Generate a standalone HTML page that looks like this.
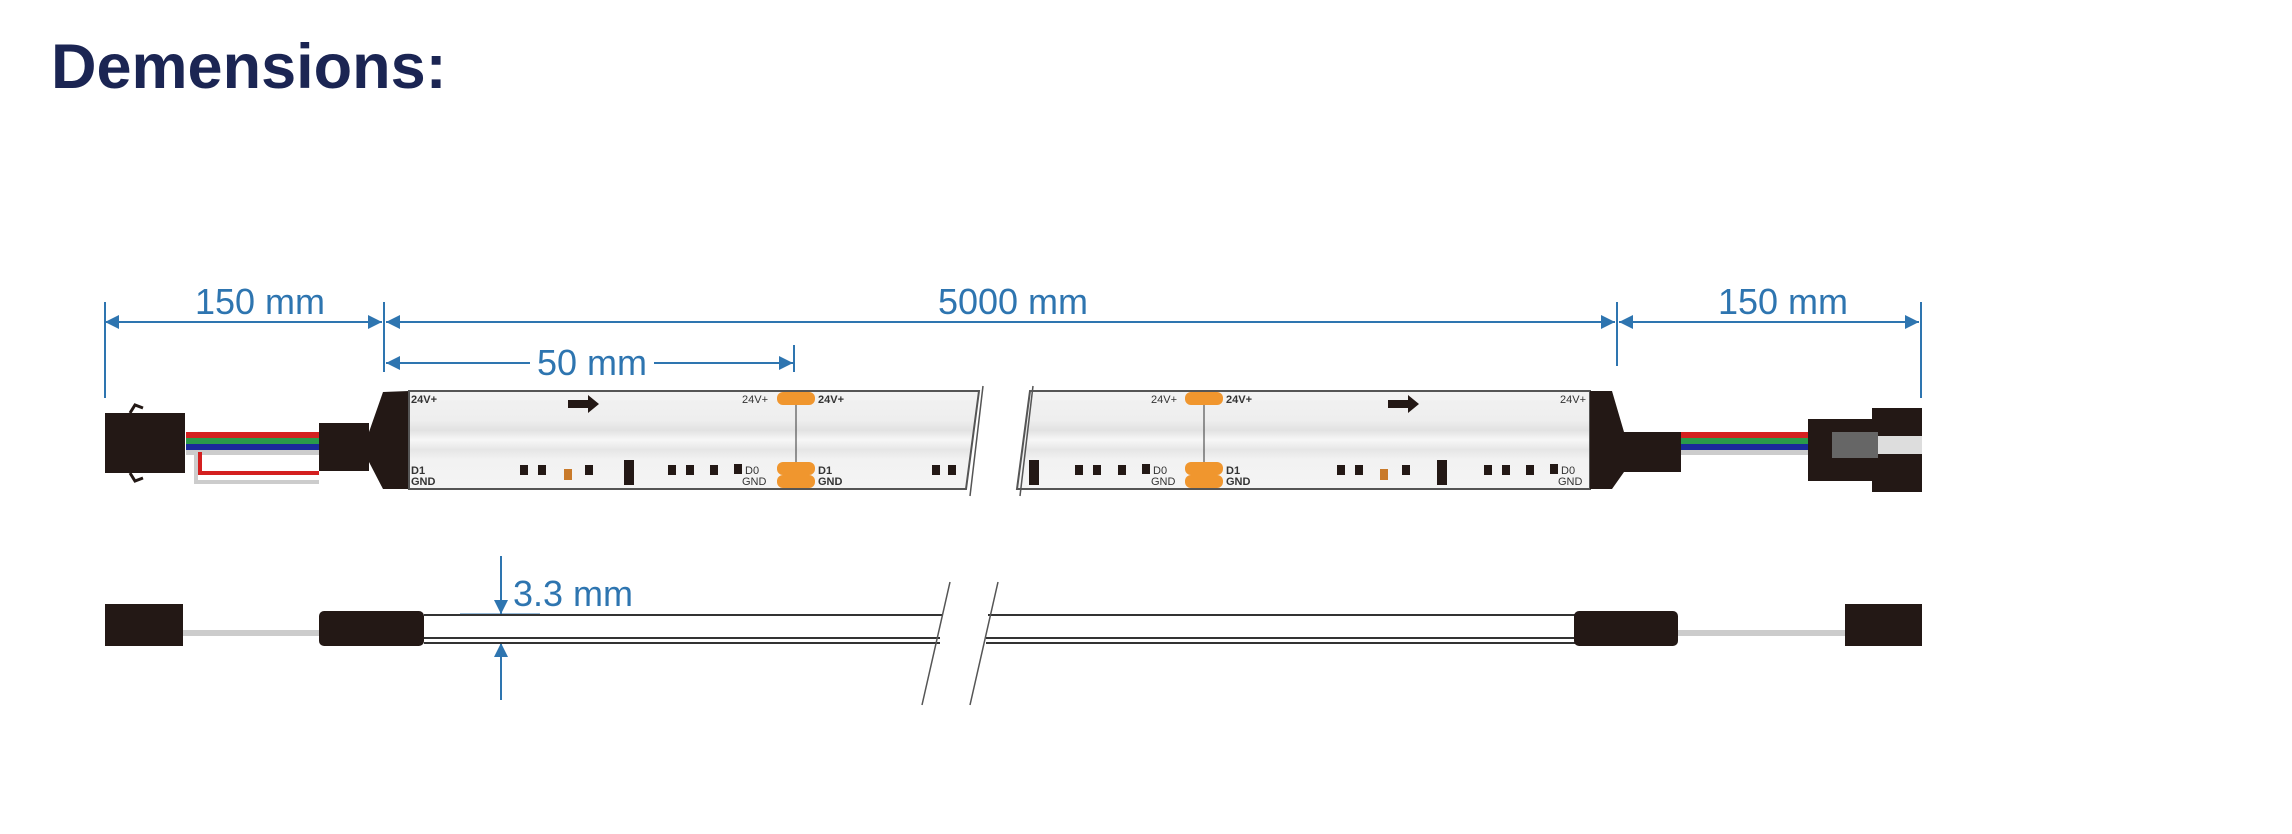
<!DOCTYPE html>
<html><head><meta charset="utf-8"><style>
html,body{margin:0;padding:0;background:#fff;width:2292px;height:834px;overflow:hidden}
svg{display:block}
.d{font-family:"Liberation Sans",Arial,sans-serif;fill:#2e75b0;font-size:36px}
.s{font-family:"Liberation Sans",Arial,sans-serif;font-weight:bold;font-size:11px;fill:#333}
</style></head><body>
<svg width="2292" height="834" viewBox="0 0 2292 834" xmlns="http://www.w3.org/2000/svg">
<defs>
<marker id="a" viewBox="0 0 10 10" refX="10" refY="5" markerWidth="14" markerHeight="14" markerUnits="userSpaceOnUse" orient="auto-start-reverse"><path d="M0,0 L10,5 L0,10z" fill="#2e75b0"/></marker>
<linearGradient id="g" x1="0" y1="0" x2="0" y2="1">
<stop offset="0" stop-color="#f2f2f2"/><stop offset="0.3" stop-color="#eeeeee"/><stop offset="0.4" stop-color="#e2e2e2"/><stop offset="0.5" stop-color="#f7f7f7"/><stop offset="0.6" stop-color="#e6e6e6"/><stop offset="0.7" stop-color="#f2f2f2"/><stop offset="1" stop-color="#f4f4f4"/></linearGradient>
</defs>
<text x="51" y="88" font-family="Liberation Sans,Arial,sans-serif" font-weight="bold" font-size="63" fill="#1b2553">Demensions:</text>

<g stroke="#2e75b0" stroke-width="2" fill="none">
<line x1="105" y1="302" x2="105" y2="398"/>
<line x1="384" y1="302" x2="384" y2="372"/>
<line x1="1617" y1="302" x2="1617" y2="366"/>
<line x1="1921" y1="302" x2="1921" y2="398"/>
<line x1="794" y1="345" x2="794" y2="372"/>
<line x1="105" y1="322" x2="382" y2="322" marker-start="url(#a)" marker-end="url(#a)"/>
<line x1="386" y1="322" x2="1615" y2="322" marker-start="url(#a)" marker-end="url(#a)"/>
<line x1="1619" y1="322" x2="1919" y2="322" marker-start="url(#a)" marker-end="url(#a)"/>
<line x1="386" y1="363" x2="530" y2="363" marker-start="url(#a)"/>
<line x1="654" y1="363" x2="793" y2="363" marker-end="url(#a)"/>
<line x1="501" y1="556" x2="501" y2="614" marker-end="url(#a)"/>
<line x1="501" y1="700" x2="501" y2="643" marker-end="url(#a)"/>
<line x1="460" y1="614" x2="540" y2="614" stroke-width="1"/>
<line x1="460" y1="643" x2="540" y2="643" stroke-width="1"/>
</g>
<text class="d" x="260" y="314" text-anchor="middle">150 mm</text>
<text class="d" x="1013" y="314" text-anchor="middle">5000 mm</text>
<text class="d" x="1783" y="314" text-anchor="middle">150 mm</text>
<text class="d" x="592" y="375" text-anchor="middle" font-size="33">50 mm</text>
<text class="d" x="513" y="606">3.3 mm</text>

<rect x="186" y="432" width="133" height="6" fill="#d42020"/>
<rect x="186" y="438" width="133" height="6" fill="#2a9a4a"/>
<rect x="186" y="444" width="133" height="6" fill="#1a2a9a"/>
<rect x="186" y="450" width="133" height="5" fill="#ccc"/>
<path d="M200,452 V473 H319" stroke="#d42020" stroke-width="4" fill="none"/>
<path d="M196,452 V482 H319" stroke="#ccc" stroke-width="4" fill="none"/>
<rect x="105" y="413" width="80" height="60" fill="#231815"/>
<path d="M130,413 L135,405 L143,408 M130,473 L135,481 L143,478" stroke="#231815" stroke-width="3" fill="none"/>
<rect x="319" y="423" width="50" height="48" fill="#231815"/>
<path d="M369,432 L383,392 L409,391 L409,489 L383,489 L369,462 z" fill="#231815"/>

<path d="M409,391 L979,391 L966,489 L409,489 z" fill="url(#g)" stroke="#555" stroke-width="2"/>
<path d="M1030,391 L1590,391 L1590,489 L1017,489 z" fill="url(#g)" stroke="#555" stroke-width="2"/>
<path d="M983,386 L970,496 M1033,386 L1020,496" stroke="#555" stroke-width="1.5"/>
<path d="M1590,391 L1612,391 L1624,432 L1681,432 L1681,472 L1624,472 L1612,489 L1590,489 z" fill="#231815"/>
<rect x="1681" y="432" width="128" height="6" fill="#d42020"/>
<rect x="1681" y="438" width="128" height="6" fill="#2a9a4a"/>
<rect x="1681" y="444" width="128" height="6" fill="#1a2a9a"/>
<rect x="1681" y="450" width="128" height="5" fill="#ccc"/>
<path d="M1808,419 H1872 V408 H1922 V492 H1872 V481 H1808 z" fill="#231815"/>
<rect x="1832" y="432" width="46" height="26" fill="#666"/>
<rect x="1878" y="436" width="44" height="18" fill="#ddd"/>

<g class="s">
<text x="411" y="403">24V+</text><text x="411" y="474">D1</text><text x="411" y="485">GND</text>
<text x="742" y="403" font-weight="normal">24V+</text><text x="818" y="403">24V+</text>
<text x="745" y="474" font-weight="normal">D0</text><text x="742" y="485" font-weight="normal">GND</text>
<text x="818" y="474">D1</text><text x="818" y="485">GND</text>
<text x="1151" y="403" font-weight="normal">24V+</text><text x="1226" y="403">24V+</text>
<text x="1153" y="474" font-weight="normal">D0</text><text x="1151" y="485" font-weight="normal">GND</text>
<text x="1226" y="474">D1</text><text x="1226" y="485">GND</text>
<text x="1560" y="403" font-weight="normal">24V+</text>
<text x="1561" y="474" font-weight="normal">D0</text><text x="1558" y="485" font-weight="normal">GND</text>
</g>
<g fill="#f0962e">
<rect x="777" y="392" width="38" height="13" rx="6"/><rect x="777" y="462" width="38" height="13" rx="6"/><rect x="777" y="475" width="38" height="13" rx="6"/>
<rect x="1185" y="392" width="38" height="13" rx="6"/><rect x="1185" y="462" width="38" height="13" rx="6"/><rect x="1185" y="475" width="38" height="13" rx="6"/>
</g>
<path d="M796,405 V462 M1204,405 V462" stroke="#333" stroke-width="1"/>
<path d="M568,400 h20 v-5 l11,9 l-11,9 v-5 h-20z M1388,400 h20 v-5 l11,9 l-11,9 v-5 h-20z" fill="#231815"/>
<g fill="#231815">
<rect x="520" y="465" width="8" height="10"/><rect x="538" y="465" width="8" height="10"/><rect x="585" y="465" width="8" height="10"/>
<rect x="624" y="460" width="10" height="25"/>
<rect x="668" y="465" width="8" height="10"/><rect x="686" y="465" width="8" height="10"/><rect x="710" y="465" width="8" height="10"/><rect x="734" y="464" width="8" height="10"/>
<rect x="932" y="465" width="8" height="10"/><rect x="948" y="465" width="8" height="10"/>
<rect x="1029" y="460" width="10" height="25"/>
<rect x="1075" y="465" width="8" height="10"/><rect x="1093" y="465" width="8" height="10"/><rect x="1118" y="465" width="8" height="10"/><rect x="1142" y="464" width="8" height="10"/>
<rect x="1337" y="465" width="8" height="10"/><rect x="1355" y="465" width="8" height="10"/><rect x="1402" y="465" width="8" height="10"/>
<rect x="1437" y="460" width="10" height="25"/>
<rect x="1484" y="465" width="8" height="10"/><rect x="1502" y="465" width="8" height="10"/><rect x="1526" y="465" width="8" height="10"/><rect x="1550" y="464" width="8" height="10"/>
</g>
<rect x="564" y="469" width="8" height="11" fill="#c97a2a"/>
<rect x="1380" y="469" width="8" height="11" fill="#c97a2a"/>

<rect x="183" y="630" width="136" height="6" fill="#ccc"/>
<rect x="105" y="604" width="78" height="42" fill="#231815"/>
<rect x="319" y="611" width="105" height="35" rx="5" fill="#231815"/>
<g stroke="#333" stroke-width="2">
<line x1="424" y1="615" x2="942" y2="615"/><line x1="424" y1="638" x2="940" y2="638"/><line x1="424" y1="643" x2="940" y2="643"/>
<line x1="988" y1="615" x2="1575" y2="615"/><line x1="986" y1="638" x2="1575" y2="638"/><line x1="986" y1="643" x2="1575" y2="643"/>
</g>
<path d="M950,582 L922,705 M998,582 L970,705" stroke="#555" stroke-width="1.5"/>
<rect x="1574" y="611" width="104" height="35" rx="5" fill="#231815"/>
<rect x="1678" y="630" width="167" height="6" fill="#ccc"/>
<rect x="1845" y="604" width="77" height="42" fill="#231815"/>
</svg>
</body></html>
